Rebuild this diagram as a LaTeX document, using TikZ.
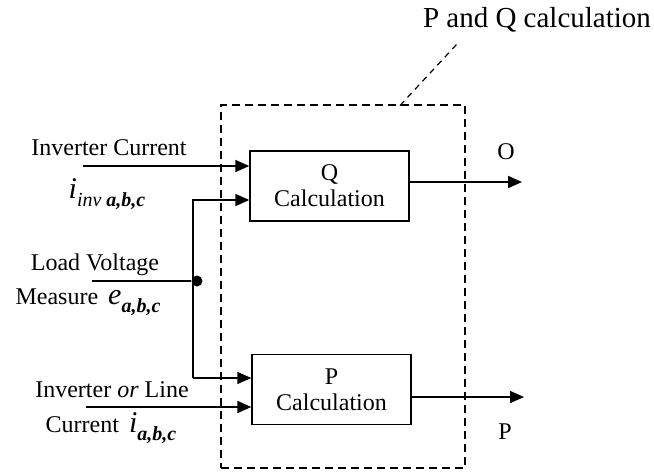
\documentclass[tikz,border=0pt]{standalone}
\usepackage{fontspec}
\setmainfont{Liberation Serif}
\usetikzlibrary{arrows.meta}
\usetikzlibrary{positioning}

\newcommand{\symb}[2]{{\fontsize{15}{15}\selectfont\itshape #1}\raisebox{-0.7ex}{\fontsize{10}{10}\selectfont\itshape #2}}

\begin{document}
\begin{tikzpicture}[
			x=0.5pt, y=-0.5pt,
			font=\fontsize{12}{13}\selectfont,
			block/.style = {draw, line width=0.7pt, minimum width=79.5pt, minimum height=35pt, align=center, inner sep=0pt},
			frame/.style = {draw, dashed, dash pattern=on 4pt off 2.5pt, line width=0.6pt, minimum width=122pt, minimum height=181.5pt, inner sep=0pt},
			sig/.style   = {-{Triangle[length=7pt,width=6pt]}, line width=0.8pt},
			wire/.style  = {line width=0.7pt}
			]
			\useasboundingbox (0,0) rectangle (654,473);

			% blocks
			\node[frame] (pq) at (343,286.5) {};
			\node[block] (qcalc) at (329.5,186) {Q\\Calculation};
			\node[block] (pcalc) at (331.5,389.5) {P\\Calculation};
			\node[font=\fontsize{14.5}{15}\selectfont] (title) at (537,20) {P and Q calculation};

			% labels
			\node (lblinv) at (109,148) {Inverter Current};
			\node (lblinvsym) at (107,194) {\symb{i}{inv\ \bfseries a,b,c}};
			\node (lblload) at (95,265) {Load Voltage};
			\node (lblmeas) at (88,302) {Measure\hspace{5pt}\symb{e}{\bfseries a,b,c}};
			\node (lblline) at (112,390) {Inverter \textit{or} Line};
			\node (lblcur) at (111,428) {Current\hspace{5pt}\symb{i}{\bfseries a,b,c}};
			\node (lblq) at (506,152) {O};
			\node (lblp) at (505,432) {P};

			% points
			\coordinate (leadtop) at (457,44);
			\coordinate (leadfoot) at (400,105.5);
			\coordinate (iinv) at (83,166);
			\coordinate (bustop) at (193,200);
			\coordinate (busbot) at (193,378);
			\coordinate (eload) at (92,281);
			\coordinate (iline) at (86,407);
			\coordinate (qout) at (522,182);
			\coordinate (pout) at (524,397);
			\node[circle, fill, inner sep=0pt, minimum size=5.5pt] (jn) at (197,281) {};

			% connections
			\draw[dashed, dash pattern=on 3pt off 2.5pt, line width=0.6pt] (leadfoot) -- (leadtop);
			\draw[sig] (iinv) -- (qcalc.west |- iinv);
			\draw[sig, wire] (busbot) -- (bustop) -- (qcalc.west |- bustop);
			\draw[sig, wire] (busbot) -- (pcalc.west |- busbot);
			\draw[wire] (eload) -- (jn);
			\draw[sig, line width=1pt] (iline) -- (pcalc.west |- iline);
			\draw[sig, line width=1pt] (qcalc.east |- qout) -- (qout);
			\draw[sig, wire] (pcalc.east |- pout) -- (pout);
		\end{tikzpicture}
\end{document}
